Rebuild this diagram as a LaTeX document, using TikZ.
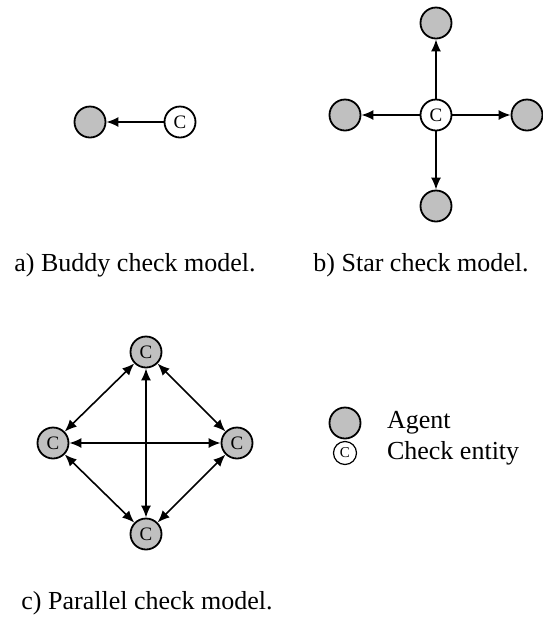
\documentclass[tikz,border=0pt]{standalone}
\usepackage{fontspec}
\setmainfont{Liberation Serif}
\usetikzlibrary{arrows.meta}
\definecolor{agentgray}{RGB}{192,192,192}

\begin{document}
\begin{tikzpicture}[x=0.5pt,y=-0.5pt,
		agent/.style={circle, draw=black, line width=0.9pt, fill=agentgray, minimum size=15.5pt, inner sep=0pt, font=\fontsize{9.5}{9.5}\selectfont},
		checker/.style={agent, fill=white},
		legendc/.style={circle, draw=black, line width=0.6pt, fill=white, minimum size=11.5pt, inner sep=0pt, font=\fontsize{7.5}{7.5}\selectfont},
		caption/.style={font=\fontsize{13}{15}\selectfont},
		link/.style={line width=0.8pt, -{Latex[length=6pt,width=5pt]}},
		both/.style={line width=0.8pt, {Latex[length=6pt,width=5pt]}-{Latex[length=6pt,width=5pt]}}]
			\useasboundingbox (0,0) rectangle (542,617);
			\node[agent] (ba) at (90,122) {};
			\node[checker] (bc) at (180,122) {C};
			\draw[link] (bc) -- (ba);
			\node[checker] (sc) at (436,115) {C};
			\node[agent] (st) at (436,23) {};
			\node[agent] (sb) at (436,206) {};
			\node[agent] (sl) at (345,115) {};
			\node[agent] (sr) at (527,115) {};
			\draw[link] (sc) -- (st);
			\draw[link] (sc) -- (sb);
			\draw[link] (sc) -- (sl);
			\draw[link] (sc) -- (sr);
			\node[caption] (capa) at (135,265) {a) Buddy check model.};
			\node[caption] (capb) at (421,265) {b) Star check model.};
			\node[agent] (pt) at (146,352) {C};
			\node[agent] (pl) at (53,443) {C};
			\node[agent] (pr) at (237,443) {C};
			\node[agent] (pb) at (146,534) {C};
			\draw[both] (pt) -- (pl);
			\draw[both] (pt) -- (pr);
			\draw[both] (pl) -- (pr);
			\draw[both] (pt) -- (pb);
			\draw[both] (pb) -- (pl);
			\draw[both] (pb) -- (pr);
			\node[agent] (ka) at (345,423) {};
			\node[caption, anchor=west] (ta) at (380,423) {Agent};
			\node[legendc] (kc) at (345,453) {C};
			\node[caption, anchor=west] (tc) at (380,453) {Check entity};
			\node[caption] (capc) at (147,603) {c) Parallel check model.};
		\end{tikzpicture}
\end{document}
